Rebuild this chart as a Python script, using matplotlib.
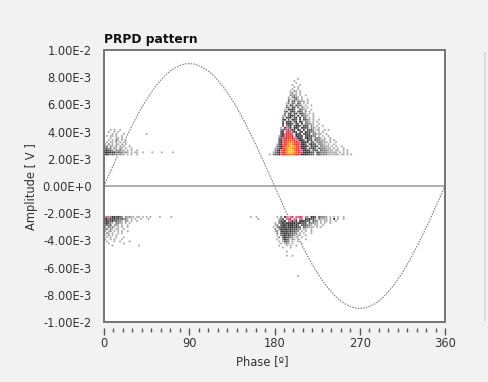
import matplotlib
matplotlib.use("Agg")
import matplotlib.pyplot as plt
from matplotlib.patches import Rectangle
from matplotlib.lines import Line2D
from matplotlib.ticker import MultipleLocator

# ---------------- data ----------------
title = "PRPD pattern"
x_label = "Phase [º]"
y_label = "Amplitude [ V ]"

phase_ticks = [0, 90, 180, 270, 360]
phase_tick_labels = ["0", "90", "180", "270", "360"]
amp_ticks = [1e-2, 8e-3, 6e-3, 4e-3, 2e-3, 0.0, -2e-3, -4e-3, -6e-3, -8e-3, -1e-2]
amp_tick_labels = ["1.00E-2", "8.00E-3", "6.00E-3", "4.00E-3", "2.00E-3", "0.00E+0",
                   "-2.00E-3", "-4.00E-3", "-6.00E-3", "-8.00E-3", "-1.00E-2"]

# reference sine read every 5 degrees (mV)
ref_phase = list(range(0, 361, 5))
ref_amp_mV = [0.00, 0.78, 1.56, 2.33, 3.08, 3.80, 4.50, 5.16, 5.79, 6.36, 6.89, 7.37, 7.79,
              8.16, 8.46, 8.69, 8.86, 8.97, 9.00,
              8.97, 8.86, 8.69, 8.46, 8.16, 7.79, 7.37, 6.89, 6.36, 5.79, 5.16, 4.50,
              3.80, 3.08, 2.33, 1.56, 0.78, 0.00,
              -0.78, -1.56, -2.33, -3.08, -3.80, -4.50, -5.16, -5.79, -6.36, -6.89, -7.37,
              -7.79, -8.16, -8.46, -8.69, -8.86, -8.97, -9.00,
              -8.97, -8.86, -8.69, -8.46, -8.16, -7.79, -7.37, -6.89, -6.36, -5.79, -5.16,
              -4.50, -3.80, -3.08, -2.33, -1.56, -0.78, 0.00]

# PRPD count maps: each map cell = 2 deg x 0.15 mV, digits = count level
cell_phase = 2.0
cell_amp_mV = 0.15

# cluster A: positive, near 0 deg (left edge phase, top edge mV)
cluster_a_origin = (0.0, 4.2)
cluster_a_rows = [
    "...1.1..1",
    "..1..1.1",
    "....1.1...1...........1",
    ".1.11.1..1",
    "...1..11.1",
    "..1.1.21.1.1",
    ".1.11.2.1..1",
    "1.2.1.11.1.1",
    "12.21.2.1.1..1",
    "2312.21.11.1..1",
    "34332.21211.1.1..1",
    "4444342322121.1.11..1....1....1.....1",
    "3432322.211.1.1..1",
]

# cluster B: negative, near 0 deg
cluster_b_origin = (0.0, -2.2)
cluster_b_rows = [
    "5525443432.21211.11.1.1.1....1.....1",
    "4454343323221.1.1..1...1",
    "3433423221.21.1..1",
    "34321.2211.1.1",
    "2323.121.1..1",
    "2.3121.1.1..1",
    "13.21.11..1",
    "2.12.1.1.1..1",
    ".21.1..1.1",
    "1.2.1.1",
    ".1.1..1...1",
    "1..1.1...1",
    ".1...1..1....1",
    "..1.......1",
    "....1.............1",
]

# cluster C: positive, near 200 deg
cluster_c_origin = (174.0, 7.95)
cluster_c_rows = [
    "...............1",
    ".............1",
    "..............1",
    "............1...1",
    ".............1.1",
    "............1..1",
    "...........1.21.1",
    "...........12.1.1",
    "...........2121.1..1",
    "..........1.2321.1",
    "..........21.231.1..1",
    "..........3.33.2211.1",
    ".........12.32.32.1.1",
    ".........2.43.3221.1..1",
    ".........32.34.3.21.1",
    "........1.4343..3211..1",
    "........23.343.332.2.1",
    "........3.34.34.3321.1.1",
    ".......12.3443.4.3221..1",
    ".......2.434.34.4.32.1.1",
    ".......34.3.443.4.3321.1..1",
    ".......3.434.34.43.221.1.1",
    ".......4.4443.43.4.32211..1",
    ".......3.534.3443.433.21.1..1",
    "......1.4554.443.4333.211.1",
    "......23556543.43.4.3332.11..1.1",
    "......34.665543.34.433221.1.1",
    "......3456765.434.3433.22111..1",
    ".....13456776.4434.343322.1.1..1",
    ".....2356677655443.4433.2221.1..1",
    ".....34567787655443.433.322111..1.1",
    ".....3456788876654434.33.222111.1..1",
    "....1345678987665443.3433.2211.1..1",
    "....23467889987654443.4333.22111.1.1..1",
    "...12346789988765444.3343.3222111.1.1..1",
    "...2345678999876554443.333.3222111.11..1.1",
    "..1234567899988765444433.33222211111.1.1.1",
    "1.2334567788876654444333.332222111111.11.1.1",
]

# cluster D: negative, near 200 deg
cluster_d_origin = (150.0, -2.2)
cluster_d_rows = [
    "..1..1..........1.2.45.56.5565.55.443.32221.1.1.1..1",
    "......1..........123.556.55.55.434332.21111.1.4.1..1",
    ".................2334.55454.444333.322.1.11.1..1",
    "...............1.234344444344333.32211.1.1..1",
    "...............12.3443444343.333221.11..1",
    "..............1.2334434443433.322111.1.1",
    "...............2.243443433322.11..1",
    "...............12.3434343322.1.1..1",
    "................2.334433322.1.1...1",
    "................1.23434322.11..1",
    ".................2.343322.1..1",
    "................1..2432.21.1...1",
    ".................1.1332.1..1",
    "..................1.121.1....1",
    ".................1...1.1..1",
    "...................1...1",
    "",
    ".....................1",
    "",
    ".....................1..1",
    "", "", "", "", "", "", "", "", "",
    "...........................1",
]

level_colors = {1: "#b0b0b0", 2: "#858585", 3: "#5a5a5a", 4: "#333333",
                5: "#d06888", 6: "#e03040", 7: "#ee4428", 8: "#f47c28", 9: "#f7b838"}

# ---------------- figure ----------------
W, H = 488, 382
fig = plt.figure(figsize=(W / 100, H / 100), dpi=100, facecolor="#f2f2f2")
ax = fig.add_axes([104 / W, 1 - 322 / H, 341 / W, 272 / H])
ax.set_facecolor("white")

ax.set_xlim(0, 360)
ax.set_ylim(-0.01, 0.01)

# zero line
ax.axhline(0.0, color="#a8a8a8", lw=1.3, zorder=1)

# reference sine
ax.plot(ref_phase, [v * 1e-3 for v in ref_amp_mV], color="#858585", lw=0.8,
        linestyle=(0, (1.5, 1.0)), zorder=2)


def draw_map(rows, origin):
    phase0, amp_top = origin
    xs, ys, cs = [], [], []
    for r, row in enumerate(rows):
        for c, ch in enumerate(row):
            if ch == ".":
                continue
            xs.append(phase0 + (c + 0.5) * cell_phase)
            ys.append((amp_top - (r + 0.5) * cell_amp_mV) * 1e-3)
            cs.append(level_colors[int(ch)])
    ax.scatter(xs, ys, c=cs, marker="o", s=2.3, linewidths=0, zorder=3)


draw_map(cluster_a_rows, cluster_a_origin)
draw_map(cluster_b_rows, cluster_b_origin)
draw_map(cluster_c_rows, cluster_c_origin)
draw_map(cluster_d_rows, cluster_d_origin)

# frame
for s in ax.spines.values():
    s.set_visible(False)
ax.spines["bottom"].set_position(("outward", 4))
ax.add_patch(Rectangle((0, 0), 1, 1, transform=ax.transAxes, fill=False,
                       ec="#6a6a6a", lw=1.3, clip_on=False, zorder=6))

ax.set_xticks(phase_ticks)
ax.set_xticklabels(phase_tick_labels)
ax.xaxis.set_minor_locator(MultipleLocator(10))
ax.tick_params(axis="x", which="major", direction="out", length=5, width=1,
               color="#555555", pad=2, labelsize=8.3, labelcolor="#333333")
ax.tick_params(axis="x", which="minor", direction="out", length=3, width=1,
               color="#555555")
ax.set_yticks(amp_ticks)
ax.set_yticklabels(amp_tick_labels)
ax.tick_params(axis="y", length=0, pad=9, labelsize=8.3, labelcolor="#333333")

fig.text(104 / W, 1 - 39 / H, title, fontsize=8.8, fontweight="bold",
         ha="left", va="center", color="#111111")
fig.text(262 / W, 1 - 362 / H, x_label, fontsize=8.3, ha="center", va="center",
         color="#333333")
fig.text(31 / W, 1 - 187 / H, y_label, fontsize=8.3, rotation=90, ha="center",
         va="center", color="#333333")

fig.add_artist(Line2D([485 / W, 485 / W], [1 - 53 / H, 1 - 320 / H],
                      transform=fig.transFigure, color="#dedede", lw=1.5))

fig.savefig("out.png", dpi=100, facecolor=fig.get_facecolor())
